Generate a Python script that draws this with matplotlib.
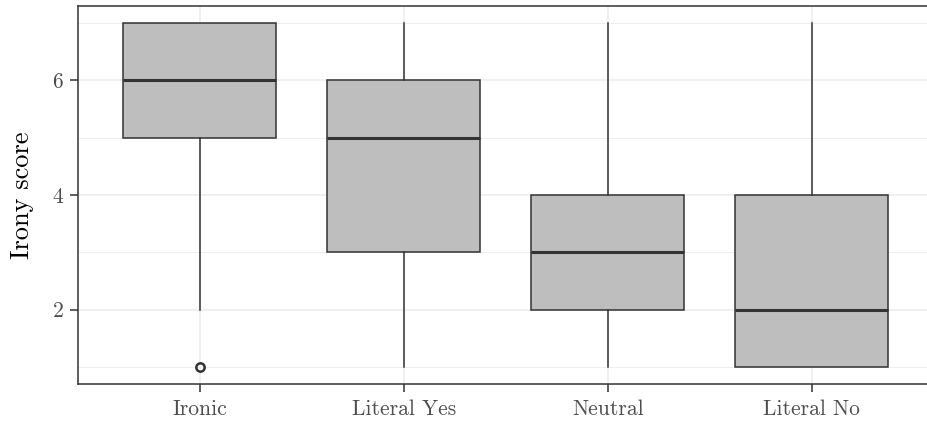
import matplotlib
matplotlib.use("Agg")
import matplotlib.pyplot as plt

# five-number summaries per condition
categories = ["Ironic", "Literal Yes", "Neutral", "Literal No"]
q1 = [5, 3, 2, 1]
medians = [6, 5, 3, 2]
q3 = [7, 6, 4, 4]
whisk_lo = [2, 1, 1, 1]
whisk_hi = [7, 7, 7, 7]
outliers = [[1], [], [], []]

plt.rcParams["font.family"] = ["cmr10", "DejaVu Serif"]
plt.rcParams["axes.formatter.use_mathtext"] = True

fig = plt.figure(figsize=(9.27, 4.22), dpi=100)
ax = fig.add_axes([77.5 / 927, 38 / 422, (934 - 77.5) / 927, 378 / 422])

stats = []
for i, name in enumerate(categories):
    stats.append({
        "label": name, "q1": q1[i], "med": medians[i], "q3": q3[i],
        "whislo": whisk_lo[i], "whishi": whisk_hi[i], "fliers": outliers[i],
    })

dark = "#333333"
ax.bxp(
    stats, positions=range(1, 5), widths=0.75, patch_artist=True,
    showcaps=False,
    boxprops=dict(facecolor="#BEBEBE", edgecolor=dark, linewidth=1.1),
    medianprops=dict(color=dark, linewidth=2.2),
    whiskerprops=dict(color=dark, linewidth=1.1),
    flierprops=dict(marker="o", markersize=6, markerfacecolor="none",
                    markeredgecolor=dark, markeredgewidth=1.8),
    zorder=3,
)

ax.set_xlim(0.4, 4.6)
ax.set_ylim(0.7, 7.3)
ax.set_yticks([2, 4, 6])
ax.set_yticks([1, 3, 5, 7], minor=True)
ax.set_xticks(range(1, 5))
ax.set_xticklabels(categories)

ax.grid(True, which="major", color="#EBEBEB", linewidth=1.1, zorder=0)
ax.grid(True, which="minor", axis="y", color="#EBEBEB", linewidth=0.6, zorder=0)
ax.set_axisbelow(True)

for side in ["left", "bottom", "top"]:
    ax.spines[side].set_color(dark)
    ax.spines[side].set_linewidth(1.1)
ax.spines["right"].set_visible(False)

ax.tick_params(axis="both", which="major", length=5.8, width=1.1, color=dark,
               labelcolor="#4D4D4D", labelsize=15.5)
ax.tick_params(axis="x", which="major", pad=5)
ax.tick_params(axis="y", which="major", pad=4)
ax.tick_params(axis="y", which="minor", length=0)

ax.set_ylabel("Irony score", fontsize=19, labelpad=13)

fig.savefig("out.png", dpi=100)
